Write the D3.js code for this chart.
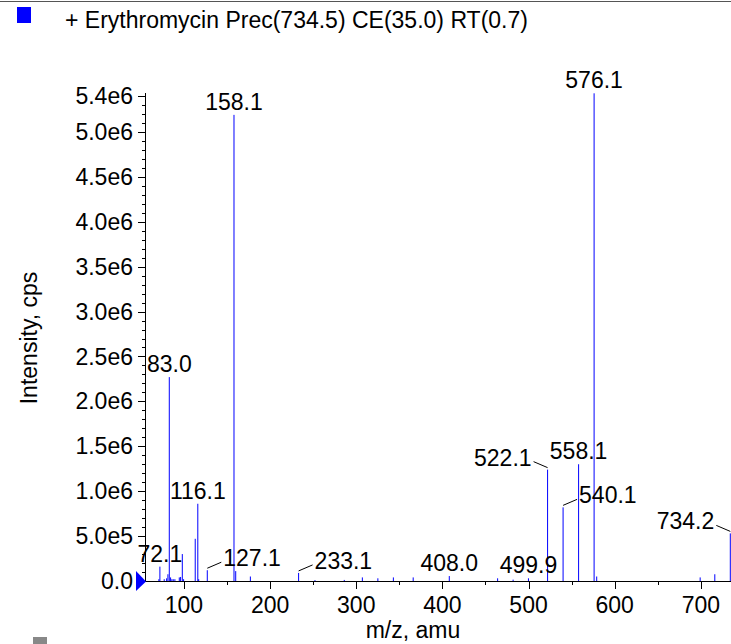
<!DOCTYPE html>
<html><head><meta charset="utf-8">
<script src="https://cdn.jsdelivr.net/npm/d3@7"></script>
<style>
html,body{margin:0;padding:0;background:#fff;}
svg{display:block;font-family:"Liberation Sans",Arial,Helvetica,sans-serif;}
</style></head>
<body>
<svg id="chart" width="731" height="644"></svg>
<script>
// ---- data ----
const legendLabel = "+ Erythromycin Prec(734.5) CE(35.0) RT(0.7)";
const xTitle = "m/z, amu";
const yTitle = "Intensity, cps";
const peakMz = [70.9, 72.1, 77.1, 79.9, 81.4, 83.0, 84.5, 86.0, 87.6, 89.5, 94.6, 96.1, 98.1, 99.6,
  113.1, 116.1, 117.1, 127.1, 158.1, 160.1, 177.1, 233.1, 252.1, 286.1, 307.1, 325.1, 343.1, 366.1,
  408.0, 464.1, 482.1, 499.9, 522.1, 540.1, 558.1, 576.1, 579.1, 699.2, 716.2, 734.2];
const peakIntensity = [0.02e6, 0.16e6, 0.02e6, 0.03e6, 0.075e6, 2.27e6, 0.04e6, 0.02e6, 0.02e6, 0.02e6, 0.04e6, 0.045e6, 0.30e6, 0.02e6,
  0.47e6, 0.86e6, 0.02e6, 0.12e6, 5.19e6, 0.11e6, 0.05e6, 0.09e6, 0.01e6, 0.012e6, 0.04e6, 0.03e6, 0.04e6, 0.04e6,
  0.055e6, 0.03e6, 0.015e6, 0.03e6, 1.24e6, 0.82e6, 1.30e6, 5.43e6, 0.05e6, 0.04e6, 0.075e6, 0.53e6];
const labelledPeaks = ["72.1", "83.0", "116.1", "127.1", "158.1", "233.1", "408.0", "499.9", "522.1", "540.1", "558.1", "576.1", "734.2"];
const leaderRight = ["127.1", "233.1", "540.1"];
const leaderLeft = ["522.1", "734.2"];
const xDomain = [54.8, 735];
const yDomain = [0, 5.4e6];
const yTickValues = [0, 0.5e6, 1.0e6, 1.5e6, 2.0e6, 2.5e6, 3.0e6, 3.5e6, 4.0e6, 4.5e6, 5.0e6, 5.4e6];
const yTickLabels = ["0.0", "5.0e5", "1.0e6", "1.5e6", "2.0e6", "2.5e6", "3.0e6", "3.5e6", "4.0e6", "4.5e6", "5.0e6", "5.4e6"];
const xTickValues = [100, 200, 300, 400, 500, 600, 700];

// ---- chart ----
const svg = d3.select("#chart");
const FS = 23;
const x = d3.scaleLinear().domain(xDomain).range([145, 731]);
const y = d3.scaleLinear().domain(yDomain).range([581, 96]);
const blue = "#0000ff";

// frame line at top
svg.append("line").attr("x1", 0).attr("x2", 731).attr("y1", 1.5).attr("y2", 1.5)
  .attr("stroke", "#555").attr("stroke-width", 1);

// legend
svg.append("rect").attr("x", 17).attr("y", 7).attr("width", 14).attr("height", 16).attr("fill", blue);
svg.append("text").attr("x", 65).attr("y", 28).attr("font-size", FS).attr("fill", "#000").text(legendLabel);
// partially visible second legend swatch at bottom
svg.append("rect").attr("x", 33).attr("y", 637).attr("width", 14).attr("height", 10).attr("fill", "#888");

// y axis
const yMinor = d3.range(0, 5.4e6 + 1, 1e5);
const yAxisG = svg.append("g");
yAxisG.append("line").attr("x1", 145.5).attr("x2", 145.5).attr("y1", y(5.4e6) - 3).attr("y2", 581.5)
  .attr("stroke", "#000");
yAxisG.selectAll("line.minor").data(yMinor).join("line").attr("class", "minor")
  .attr("x1", 142).attr("x2", 145.5).attr("y1", d => Math.round(y(d)) + 0.5).attr("y2", d => Math.round(y(d)) + 0.5)
  .attr("stroke", "#000");
yAxisG.selectAll("line.major").data(yTickValues).join("line").attr("class", "major")
  .attr("x1", 138).attr("x2", 145.5).attr("y1", d => Math.round(y(d)) + 0.5).attr("y2", d => Math.round(y(d)) + 0.5)
  .attr("stroke", "#000");
yAxisG.selectAll("text").data(yTickValues).join("text")
  .attr("x", 133).attr("y", d => y(d)).attr("dy", "0.35em").attr("text-anchor", "end")
  .attr("font-size", FS).text((d, i) => yTickLabels[i]);

// x axis
const xMinor = d3.range(100, 735, 50);
const xAxisG = svg.append("g");
xAxisG.append("line").attr("x1", 145).attr("x2", 731).attr("y1", 581.5).attr("y2", 581.5).attr("stroke", "#000");
xAxisG.selectAll("line.minor").data(xMinor).join("line").attr("class", "minor")
  .attr("x1", d => Math.round(x(d)) + 0.5).attr("x2", d => Math.round(x(d)) + 0.5).attr("y1", 581.5).attr("y2", 585)
  .attr("stroke", "#000");
xAxisG.selectAll("line.major").data(xTickValues).join("line").attr("class", "major")
  .attr("x1", d => Math.round(x(d)) + 0.5).attr("x2", d => Math.round(x(d)) + 0.5).attr("y1", 581.5).attr("y2", 589)
  .attr("stroke", "#000");
xAxisG.selectAll("text").data(xTickValues).join("text")
  .attr("x", d => x(d)).attr("y", 613).attr("text-anchor", "middle")
  .attr("font-size", FS).text(d => d);

// titles
svg.append("text").attr("x", 413).attr("y", 638).attr("text-anchor", "middle").attr("font-size", FS).text(xTitle);
svg.append("text").attr("transform", "translate(37,338) rotate(-90)").attr("text-anchor", "middle")
  .attr("font-size", FS).text(yTitle);

// peaks
const peaks = peakMz.map((m, i) => ({mz: m, v: peakIntensity[i]}));
svg.append("g").selectAll("line").data(peaks).join("line")
  .attr("x1", d => x(d.mz)).attr("x2", d => x(d.mz))
  .attr("y1", y(0)).attr("y2", d => y(d.v))
  .attr("stroke", blue).attr("stroke-width", 1);

// origin marker triangle
svg.append("path").attr("d", `M136,${y(0) - 10}L146,${y(0) + 0.5}L136,${y(0) + 10}Z`).attr("fill", blue);

// peak labels
const labG = svg.append("g");
labelledPeaks.forEach(lbl => {
  const p = peaks.find(d => d.mz.toFixed(1) === lbl);
  const px = x(p.mz), py = y(p.v);
  if (leaderRight.includes(lbl) || leaderLeft.includes(lbl)) {
    const dir = leaderRight.includes(lbl) ? 1 : -1;
    const ex = px + dir * 14, ey = py - 8;
    labG.append("line").attr("x1", px).attr("y1", py - 2).attr("x2", ex).attr("y2", ey)
      .attr("stroke", "#000").attr("stroke-width", 1);
    labG.append("text").attr("x", ex + dir * 2).attr("y", ey + 4)
      .attr("text-anchor", dir > 0 ? "start" : "end").attr("font-size", FS).text(lbl);
  } else {
    labG.append("text").attr("x", px).attr("y", py - 5).attr("text-anchor", "middle")
      .attr("font-size", FS).text(lbl);
  }
});
</script>
</body></html>
